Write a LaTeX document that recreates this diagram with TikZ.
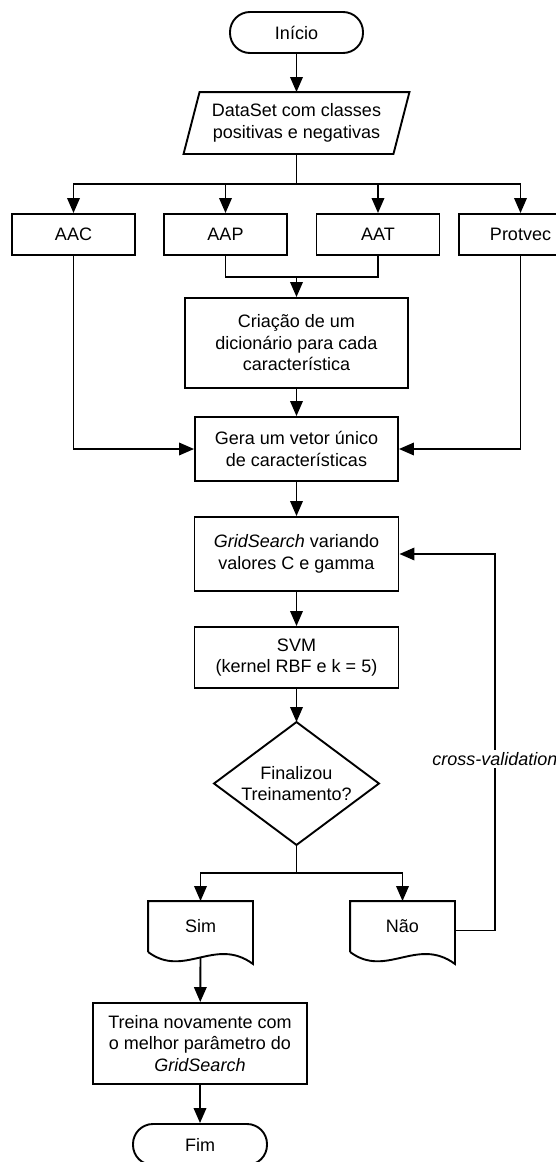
\documentclass[tikz,border=0pt]{standalone}
\usepackage{fontspec}
\setmainfont{Liberation Sans}
\usetikzlibrary{arrows.meta,shapes.geometric,calc}
\begin{document}
\begin{tikzpicture}[x=1pt,y=-1pt, line width=1.9pt,
  every node/.style={font=\fontsize{18}{21.5}\selectfont, align=center, inner sep=0pt},
  box/.style={draw, rectangle},
  term/.style={draw, rectangle, rounded corners=20pt},
  arr/.style={-{Triangle[length=15pt,width=12.5pt]}},
  ]
\useasboundingbox (0,0) rectangle (556,1162);

% nodes
\node[term, minimum width=133pt, minimum height=41pt] (ini) at (296.5,32.5) {Início};
\node[minimum width=224pt, minimum height=60pt] (data) at (296.5,123) {DataSet com classes\\positivas e negativas};
\draw ($(data.north west)+(16,0)$) -- (data.north east) -- ($(data.south east)+(-16,0)$) -- (data.south west) -- cycle;

\node[box, minimum width=123pt, minimum height=41pt] (aac) at (73.5,234.5) {AAC};
\node[box, minimum width=123pt, minimum height=41pt] (aap) at (225.5,234.5) {AAP};
\node[box, minimum width=123pt, minimum height=41pt] (aat) at (378,234.5) {AAT};
\node[box, minimum width=123pt, minimum height=41pt] (prot) at (520.5,234.5) {Protvec};

\node[box, minimum width=223pt, minimum height=90pt] (cria) at (296.5,343) {Criação de um\\dicionário para cada\\característica};
\node[box, minimum width=203pt, minimum height=64pt] (gera) at (296.5,449) {Gera um vetor único\\de características};
\node[box, minimum width=204pt, minimum height=74pt] (grid) at (296.5,554) {\textit{GridSearch} variando\\valores C e gamma};
\node[box, minimum width=204pt, minimum height=61pt] (svm) at (296.5,657.5) {SVM\\(kernel RBF e k = 5)};

\node[minimum width=163pt, minimum height=121pt] (dec) at (296.5,783.5) {Finalizou\\Treinamento?};
\draw (dec.north) -- (dec.east) -- (dec.south) -- (dec.west) -- cycle;

\node[minimum width=103pt, minimum height=49pt] (sim) at (200.5,926.5) {Sim};
\node[minimum width=103pt, minimum height=49pt] (nao) at (402.5,926.5) {Não};
\foreach \n in {sim,nao}{
  \draw (\n.south west) -- (\n.north west) -- (\n.north east) -- ($(\n.south east)+(0,12)$)
    .. controls ($(\n.south west)+(67,-16)$) and ($(\n.south west)+(36,27)$) .. (\n.south west);
}

\node[box, minimum width=214pt, minimum height=81pt] (tre) at (200,1043.5) {Treina novamente com\\o melhor parâmetro do\\\textit{GridSearch}};
\node[term, minimum width=134pt, minimum height=41pt] (fim) at (200,1144.5) {Fim};

% helper coordinates
\coordinate (br) at (296.5,184);
\coordinate (mrg) at (296.5,277);
\coordinate (dbr) at (296.5,873);
\coordinate (cv) at (495,554);
\coordinate (simb) at ($(sim.south)+(0,6)$);

% connectors
\draw[arr] (ini) -- (data);
\draw (data.south) -- (br);
\draw[arr] (br) -| (aac);
\draw[arr] (br) -| (aap);
\draw[arr] (br) -| (aat);
\draw[arr] (br) -| (prot);
\draw (aap.south) |- (mrg) -| (aat.south);
\draw[arr] (mrg) -- (cria);
\draw[arr] (cria) -- (gera);
\draw[arr] (aac) |- (gera);
\draw[arr] (prot) |- (gera);
\draw[arr] (gera) -- (grid);
\draw[arr] (grid) -- (svm);
\draw[arr] (svm) -- (dec.north);
\draw (dec.south) -- (dbr);
\draw[arr] (dbr) -| (sim);
\draw[arr] (dbr) -| (nao);
\draw[arr] ($(nao.east)+(0,4)$) -| (cv) -- (grid.east);
\node[fill=white, inner sep=2pt, font=\fontsize{18}{21.5}\selectfont\itshape] (cvl) at (495,759) {cross-validation};
\draw[arr] (simb) -- (tre);
\draw[arr] (tre) -- (fim);
\end{tikzpicture}
\end{document}
